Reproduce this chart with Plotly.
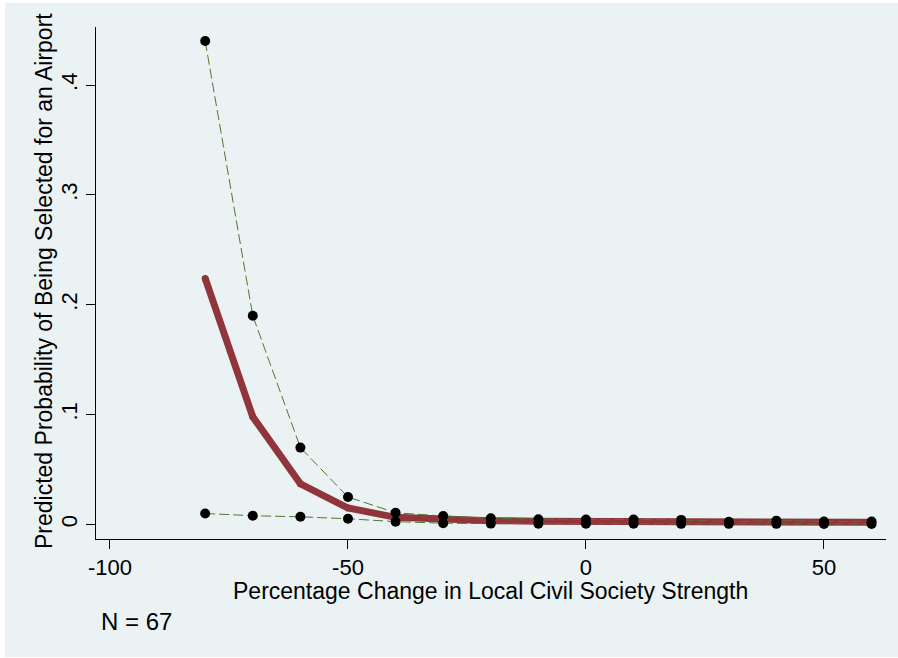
import plotly.graph_objects as go

x_vals = [-80, -70, -60, -50, -40, -30, -20, -10, 0, 10, 20, 30, 40, 50, 60]
pred_mean = [0.224, 0.098, 0.037, 0.015, 0.0065, 0.0045, 0.0035, 0.003, 0.003, 0.003, 0.0028, 0.0022, 0.0022, 0.002, 0.002]
upper_ci = [0.440, 0.190, 0.070, 0.025, 0.0107, 0.0077, 0.0056, 0.0048, 0.0046, 0.0045, 0.0042, 0.0025, 0.0035, 0.0028, 0.0028]
lower_ci = [0.010, 0.008, 0.007, 0.0052, 0.0026, 0.0012, 0.0008, 0.0007, 0.0007, 0.0007, 0.0006, 0.0006, 0.0006, 0.0005, 0.0005]

y_tick_vals = [0, 0.1, 0.2, 0.3, 0.4]
y_tick_text = ["0", ".1", ".2", ".3", ".4"]
x_tick_vals = [-100, -50, 0, 50]
x_tick_text = ["-100", "-50", "0", "50"]

x_title = "Percentage Change in Local Civil Society Strength"
y_title = "Predicted Probability of Being Selected for an Airport"
note = "N = 67"

FONT = "Liberation Sans, Arial, sans-serif"
RED = "#90353B"
GREEN = "#55752F"
BG = "#EAF2F3"

fig = go.Figure()
fig.add_trace(go.Scatter(x=x_vals, y=pred_mean, mode="lines+markers",
                         line=dict(color=RED, width=7),
                         marker=dict(color=RED, size=7, line=dict(width=0)),
                         showlegend=False, hoverinfo="skip"))
fig.add_trace(go.Scatter(x=x_vals, y=upper_ci, mode="lines+markers",
                         line=dict(color=GREEN, width=1, dash="10px,4px"),
                         marker=dict(color="black", size=10), showlegend=False))
fig.add_trace(go.Scatter(x=x_vals, y=lower_ci, mode="lines+markers",
                         line=dict(color=GREEN, width=1, dash="10px,4px"),
                         marker=dict(color="black", size=10), showlegend=False))

W, H = 898, 658
L, R, T, B = 96, 12, 27, 119
pw, ph = W - L - R, H - T - B


def px_x(p):
    return (p - L) / pw


def px_y(p):
    return (H - p - B) / ph


fig.add_shape(type="rect", xref="paper", yref="paper",
              x0=px_x(5), x1=px_x(898), y0=px_y(657), y1=px_y(3),
              fillcolor=BG, line=dict(width=0), layer="below")

fig.update_layout(
    width=W, height=H,
    margin=dict(l=L, r=R, t=T, b=B),
    paper_bgcolor="white", plot_bgcolor="white",
    font=dict(family=FONT, size=22, color="black"),
    xaxis=dict(range=[-102.94, 63.03], tickvals=x_tick_vals, ticktext=x_tick_text,
               showgrid=False, zeroline=False, showline=True, linecolor="black", linewidth=1,
               ticks="outside", ticklen=9, tickcolor="black", tickfont=dict(size=22)),
    yaxis=dict(range=[-0.0132, 0.4528], tickvals=y_tick_vals, ticktext=y_tick_text,
               tickangle=-90, showgrid=True, gridcolor=BG, gridwidth=2,
               zeroline=False, showline=True, linecolor="black", linewidth=1,
               ticks="outside", ticklen=9, tickcolor="black", tickfont=dict(size=22)),
    annotations=[
        dict(text=x_title, xref="paper", yref="paper", x=px_x(490), y=px_y(591),
             xanchor="center", yanchor="middle", showarrow=False, font=dict(size=23)),
        dict(text=y_title, xref="paper", yref="paper", x=px_x(44), y=px_y(281),
             xanchor="center", yanchor="middle", textangle=-90, showarrow=False,
             font=dict(size=23)),
        dict(text=note, xref="paper", yref="paper", x=px_x(99), y=px_y(621),
             xanchor="left", yanchor="middle", showarrow=False, font=dict(size=24)),
    ],
)

fig.write_html("out.html", config={"displayModeBar": False},
               post_script="document.body.style.margin='0';")
